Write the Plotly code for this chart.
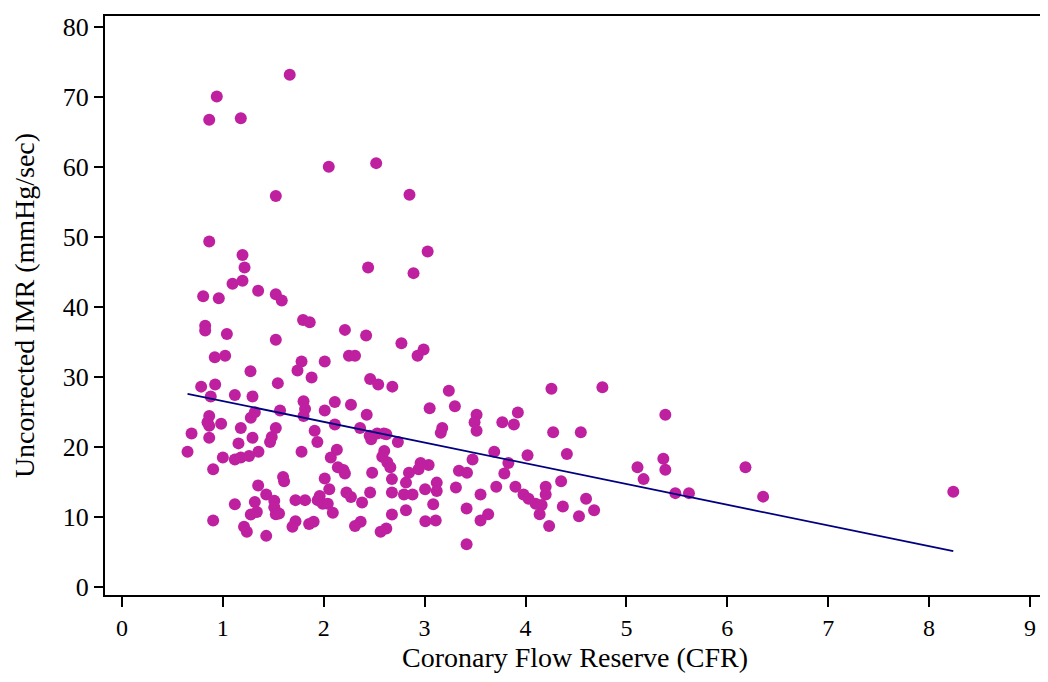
import plotly.graph_objects as go

# Coronary Flow Reserve (x) and Uncorrected IMR (y)
cfr = [
    1.663, 0.94, 0.865, 1.178, 2.05, 2.52, 1.525, 2.85, 0.865, 1.195, 3.03, 1.215, 2.44, 2.89, 1.096, 1.195,
    1.35, 0.805, 0.96, 1.525, 1.584, 1.795, 1.861, 0.825, 0.825, 1.04, 1.525, 2.21, 2.42, 2.77, 2.99, 2.93,
    0.92, 1.023, 2.25, 2.31, 1.78, 2.01, 1.74, 1.274, 1.88, 2.46, 2.54, 2.68, 1.545, 0.785, 0.924, 3.24,
    0.88, 1.119, 1.294, 3.05, 3.30, 1.80, 1.815, 1.80, 2.11, 2.27, 2.01, 1.567, 1.317, 1.277, 2.426, 0.865,
    0.848, 0.865, 0.983, 2.11, 2.36, 3.175, 3.16, 1.525, 1.178, 1.91, 0.69, 0.865, 1.294, 1.485, 1.468,
    2.455, 2.47, 2.53, 2.596, 2.62, 2.735, 1.937, 1.155, 0.65, 1.353, 1.78, 2.13, 2.07, 2.60, 2.58, 2.63,
    2.66, 1.0, 1.119, 1.178, 1.26, 0.904, 2.14, 2.195, 2.21, 2.48, 2.845, 2.96, 3.04, 2.94, 3.34, 1.597,
    1.607, 2.01, 2.676, 2.815, 3.12, 3.12, 1.35, 2.055, 2.225, 2.27, 2.46, 2.676, 2.795, 2.88, 3.005, 3.31,
    1.43, 1.96, 1.94, 1.99, 2.04, 1.317, 1.51, 1.51, 1.557, 1.525, 1.72, 1.815, 1.119, 2.38, 3.085, 2.09,
    1.337, 1.277, 2.676, 2.815, 0.904, 1.72, 1.69, 1.855, 1.90, 2.366, 2.31, 2.62, 2.564, 3.007, 3.11,
    1.21, 1.238, 1.43,
    4.257, 4.762, 3.515, 3.495, 3.515, 3.924, 3.77, 3.885, 4.274, 4.548, 5.386, 3.69, 4.02, 4.41, 3.475,
    3.83, 3.79, 3.42, 5.11, 5.366, 5.386, 6.18, 5.17, 5.485, 5.62, 6.355, 4.353, 3.554, 3.71, 3.90, 3.98,
    4.03, 4.10, 4.16, 4.14, 4.20, 4.20, 4.60, 4.37, 4.68, 4.53, 3.416, 3.63, 3.554, 4.234, 3.416, 8.24,
]
imr = [
    73.1, 70.0, 66.7, 66.9, 60.0, 60.5, 55.8, 56.0, 49.3, 47.4, 47.9, 45.6, 45.6, 44.8, 43.3, 43.7,
    42.3, 41.5, 41.2, 41.8, 40.9, 38.1, 37.8, 37.3, 36.6, 36.1, 35.3, 36.7, 35.9, 34.8, 33.9, 33.0,
    32.8, 33.0, 33.0, 33.0, 32.2, 32.2, 30.9, 30.8, 29.9, 29.7, 28.9, 28.6, 29.1, 28.6, 28.9, 28.0,
    27.2, 27.4, 27.2, 25.5, 25.8, 26.5, 25.4, 24.4, 26.4, 26.0, 25.2, 25.2, 24.95, 24.15, 24.6, 24.4,
    23.5, 23.0, 23.3, 23.2, 22.7, 22.7, 22.0, 22.7, 22.7, 22.3, 21.9, 21.3, 21.3, 21.4, 20.7,
    21.6, 21.1, 21.9, 21.9, 21.8, 20.7, 20.7, 20.5, 19.3, 19.3, 19.3, 19.6, 18.5, 19.4, 18.6, 17.8,
    17.1, 18.5, 18.2, 18.5, 18.7, 16.8, 17.1, 16.7, 16.2, 16.3, 16.3, 17.7, 17.4, 16.8, 16.6, 15.7,
    15.1, 15.5, 15.4, 14.9, 14.9, 13.7, 14.5, 13.95, 13.5, 12.85, 13.5, 13.5, 13.2, 13.2, 13.95, 14.2,
    13.2, 13.0, 12.4, 11.9, 11.9, 12.15, 12.3, 11.4, 10.5, 10.4, 12.4, 12.4, 11.8, 12.05, 11.8, 10.6,
    10.7, 10.35, 10.35, 10.96, 9.5, 9.4, 8.6, 9.0, 9.3, 9.3, 8.7, 8.35, 7.9, 9.4, 9.5,
    8.6, 7.9, 7.3,
    28.3, 28.5, 24.6, 23.5, 22.3, 24.9, 23.5, 23.2, 22.1, 22.1, 24.6, 19.3, 18.8, 19.0, 18.2,
    17.7, 16.2, 16.3, 17.1, 18.3, 16.75, 17.1, 15.4, 13.4, 13.4, 12.9, 15.1, 13.2, 14.3, 14.3, 13.2,
    12.6, 11.9, 11.7, 10.4, 14.3, 13.2, 12.6, 11.5, 10.96, 10.1, 11.2, 10.4, 9.5, 8.7, 6.1, 13.6,
]

# Linear fit line
fit_intercept = 29.5
fit_slope = -2.96

x_ticks = [0, 1, 2, 3, 4, 5, 6, 7, 8, 9]
y_ticks = [0, 10, 20, 30, 40, 50, 60, 70, 80]

fit_x = [min(cfr), max(cfr)]
fit_y = [fit_intercept + fit_slope * v for v in fit_x]

fig = go.Figure()
fig.add_trace(go.Scatter(
    x=cfr, y=imr, mode="markers",
    marker=dict(size=12, color="rgb(190,32,160)", line=dict(width=0)),
    showlegend=False, hoverinfo="x+y",
))
fig.add_trace(go.Scatter(
    x=fit_x, y=fit_y, mode="lines",
    line=dict(color="#000080", width=1.8),
    showlegend=False, hoverinfo="skip",
))

font_family = "Liberation Serif, Times New Roman, serif"
fig.update_layout(
    width=1040, height=674,
    margin=dict(l=97, r=3, t=8, b=87),
    paper_bgcolor="white", plot_bgcolor="white",
    font=dict(family=font_family, color="black"),
)
fig.update_xaxes(
    range=[-0.168, 9.149], tickvals=x_ticks, ticktext=[str(v) for v in x_ticks],
    showgrid=False, zeroline=False,
    showline=True, linecolor="black", linewidth=2, mirror=True,
    ticks="outside", ticklen=10, tickwidth=2, tickcolor="black",
    tickfont=dict(size=24, family=font_family),
    title=dict(text="Coronary Flow Reserve (CFR)", font=dict(size=28, family=font_family), standoff=8),
    automargin=False,
)
fig.update_yaxes(
    range=[-1.14, 81.5], tickvals=y_ticks, ticktext=[str(v) for v in y_ticks],
    showgrid=False, zeroline=False,
    showline=True, linecolor="black", linewidth=2, mirror=True,
    ticks="outside", ticklen=9, tickwidth=2, tickcolor="black",
    tickfont=dict(size=26, family=font_family),
    title=dict(text="Uncorrected IMR (mmHg/sec)", font=dict(size=28, family=font_family), standoff=20),
    automargin=False,
)

fig.write_html("out.html")
